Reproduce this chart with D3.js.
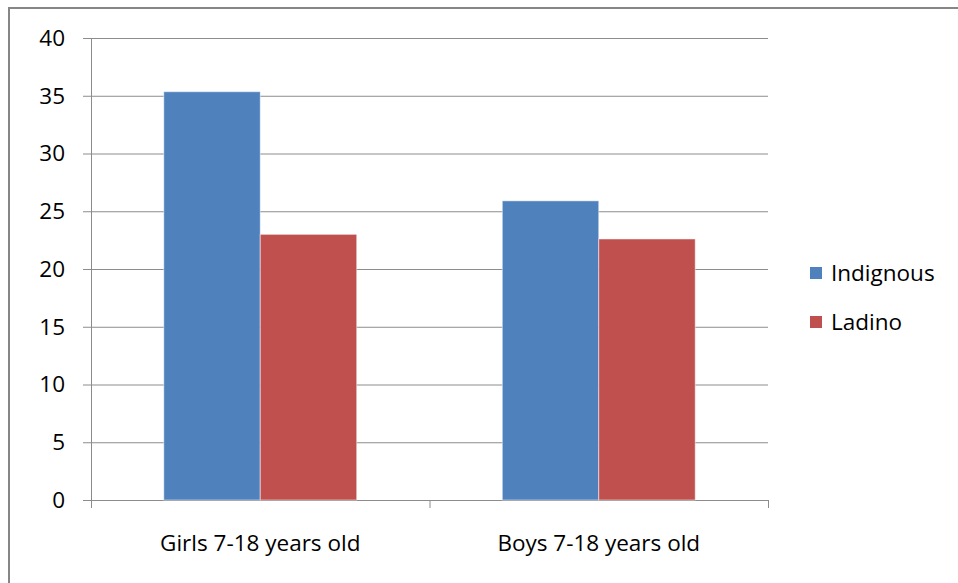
<!DOCTYPE html>
<html><head><meta charset="utf-8">
<script src="https://cdn.jsdelivr.net/npm/d3@7"></script>
<style>body{margin:0;background:#fff;} svg{display:block;}</style>
</head><body>
<script>
const categories = ["Girls 7-18 years old", "Boys 7-18 years old"];
const seriesNames = ["Indignous", "Ladino"];
const indignous = [35.35, 25.9];
const ladino = [23.0, 22.6];
const yTicks = [0, 5, 10, 15, 20, 25, 30, 35, 40];
const colors = ["#4F81BD", "#C0504D"];

const W = 958, H = 583;
const svg = d3.select("body").append("svg").attr("width", W).attr("height", H);
const font = "'Open Sans', Lato, sans-serif";
const fs = 22.5;

// outer border
svg.append("rect").attr("x", 9).attr("y", 8).attr("width", W + 10).attr("height", H + 10)
  .attr("fill", "#fff").attr("stroke", "#868686").attr("stroke-width", 2);

const plot = {left: 91, right: 768, top: 38, bottom: 500};
const y = d3.scaleLinear().domain([0, 40]).range([plot.bottom, plot.top]);
const x0 = d3.scaleBand().domain(categories).range([plot.left, plot.right]).padding(0);
const x1 = d3.scaleBand().domain(seriesNames).range([0, x0.bandwidth() * 0.57]).padding(0);
const groupOffset = x0.bandwidth() * (1 - 0.57) / 2;

const grid = "#8c8c8c";
// gridlines
svg.append("g").selectAll("line").data(yTicks).join("line")
  .attr("x1", plot.left - 8).attr("x2", plot.right)
  .attr("y1", d => y(d) + 0.5).attr("y2", d => y(d) + 0.5)
  .attr("stroke", grid).attr("stroke-width", 1);
// y labels
svg.append("g").selectAll("text").data(yTicks).join("text")
  .attr("x", 65).attr("y", d => y(d)).attr("dy", "0.35em")
  .attr("text-anchor", "end").attr("font-family", font).attr("font-size", fs).attr("fill", "#000")
  .text(d => d);
// y axis line
svg.append("line").attr("x1", plot.left + 0.5).attr("x2", plot.left + 0.5)
  .attr("y1", plot.top).attr("y2", plot.bottom).attr("stroke", grid);

// bars
const rows = categories.map((c, i) => ({cat: c, vals: [indignous[i], ladino[i]]}));
const g = svg.append("g").selectAll("g").data(rows).join("g")
  .attr("transform", d => `translate(${x0(d.cat) + groupOffset},0)`);
g.selectAll("rect").data(d => d.vals.map((v, j) => ({name: seriesNames[j], v, j}))).join("rect")
  .attr("x", d => x1(d.name)).attr("width", x1.bandwidth())
  .attr("y", d => y(d.v)).attr("height", d => y(0) - y(d.v))
  .attr("fill", d => colors[d.j]).attr("stroke", "rgba(255,255,255,0.5)").attr("stroke-width", 1);

// x axis
const xTickPos = [plot.left, ...categories.map(c => x0(c) + x0.bandwidth())];
svg.append("g").selectAll("line").data(xTickPos).join("line")
  .attr("x1", d => d + 0.5).attr("x2", d => d + 0.5).attr("y1", plot.bottom).attr("y2", plot.bottom + 8)
  .attr("stroke", grid);
svg.append("g").selectAll("text").data(categories).join("text")
  .attr("x", d => x0(d) + x0.bandwidth() / 2).attr("y", 543).attr("dy", "0.35em")
  .attr("text-anchor", "middle").attr("font-family", font).attr("font-size", fs).attr("fill", "#000")
  .text(d => d);

// legend
const leg = svg.append("g").selectAll("g").data(seriesNames).join("g")
  .attr("transform", (d, i) => `translate(810,${273 + i * 49})`);
leg.append("rect").attr("x", 0).attr("y", -6).attr("width", 12).attr("height", 12)
  .attr("fill", (d, i) => colors[i]);
leg.append("text").attr("x", 21).attr("y", 0).attr("dy", "0.35em")
  .attr("font-family", font).attr("font-size", fs).attr("fill", "#000").text(d => d);
</script>
</body></html>
